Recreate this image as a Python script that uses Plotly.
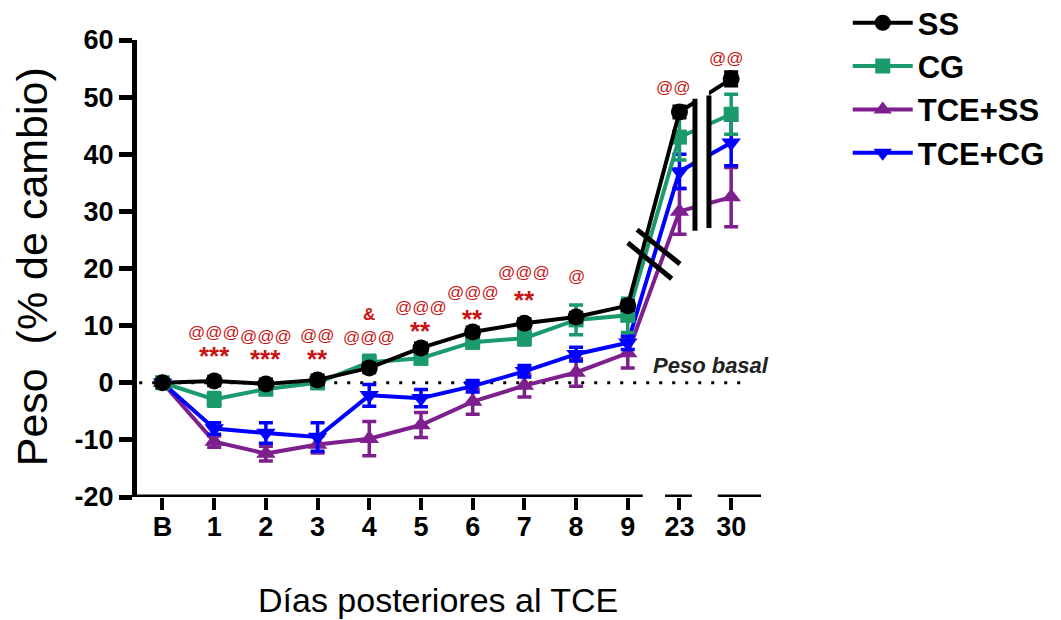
import plotly.graph_objects as go

days = ["B", "1", "2", "3", "4", "5", "6", "7", "8", "9", "23", "30"]
y_ticks = [-20, -10, 0, 10, 20, 30, 40, 50, 60]
y_ticktext = ["-20", "-10", "0", "10", "20", "30", "40", "50", "60"]

ss = [0, 0.3, -0.2, 0.5, 2.6, 6.1, 8.9, 10.4, 11.5, 13.5, 47.4, 53.2]
ss_err = [0.5, 0.8, 0.8, 0.8, 0.8, 0.8, 0.8, 0.8, 0.8, 0.8, 1.0, 1.2]
cg = [0, -2.9, -1.1, 0.0, 3.6, 4.3, 7.1, 7.8, 11.0, 11.8, 43.0, 47.0]
cg_err = [0.5, 1.2, 1.0, 1.0, 1.2, 1.0, 1.0, 1.2, 2.6, 3.0, 4.0, 3.5]
tce_ss = [0, -10.3, -12.4, -10.8, -9.8, -7.4, -3.3, -0.5, 1.8, 5.2, 30.0, 32.5]
tce_ss_err = [0.5, 1.0, 1.3, 1.5, 3.0, 2.2, 2.2, 2.0, 2.4, 2.6, 4.0, 5.2]
tce_cg = [0, -8.0, -8.8, -9.5, -2.2, -2.7, -0.6, 2.0, 5.0, 7.0, 37.0, 42.0]
tce_cg_err = [0.5, 1.0, 1.8, 2.5, 1.9, 1.5, 1.0, 1.0, 1.2, 1.2, 3.0, 4.0]

# significance labels
sig_x = [1, 1, 2, 2, 3, 3, 4, 4, 5, 5, 6, 6, 7, 7, 8, 9.88, 10.9]
sig_y = [8.8, 4.6, 8.1, 4.1, 8.2, 4.1, 11.9, 7.9, 13.1, 9.0, 15.8, 11.2, 19.3, 14.4, 18.6, 51.7, 56.7]
sig_text = ["@@@", "***", "@@@", "***", "@@", "**", "&", "@@@", "@@@", "**",
            "@@@", "**", "@@@", "**", "@", "@@", "@@"]

x = list(range(len(days)))

REG = "Liberation Sans, Arial"

series = [
    ("TCE+SS", tce_ss, tce_ss_err, "#7d1f8c", "triangle-up", 17, 3),
    ("TCE+CG", tce_cg, tce_cg_err, "#0000ff", "triangle-down", 17, 4),
    ("CG", cg, cg_err, "#1b9a6b", "square", 15, 2),
    ("SS", ss, ss_err, "#000000", "circle", 17, 1),
]

fig = go.Figure()
for name, vals, err, col, sym, size, rank in series:
    fig.add_trace(go.Scatter(
        x=x, y=vals, name=name, mode="lines+markers",
        line=dict(color=col, width=4),
        marker=dict(symbol=sym, size=size, color=col, line=dict(width=0)),
        error_y=dict(type="data", array=err, visible=True, color=col,
                     thickness=3.5, width=7),
        legendrank=rank,
    ))

xmin, xmax = -0.493, 11.577
shapes = [
    # baseline
    dict(type="line", xref="x", yref="y", x0=-0.45, x1=11.33, y0=0, y1=0,
         line=dict(color="black", width=3, dash="3px,10px"), layer="below"),
    # broken x axis
    dict(type="line", xref="x", yref="y", x0=-0.54, x1=9.29, y0=-20, y1=-20,
         line=dict(color="black", width=5)),
    dict(type="line", xref="x", yref="y", x0=9.72, x1=10.24, y0=-20, y1=-20,
         line=dict(color="black", width=5)),
    dict(type="line", xref="x", yref="y", x0=10.74, x1=xmax, y0=-20, y1=-20,
         line=dict(color="black", width=5)),
    # gap between 23 and 30
    dict(type="rect", xref="x", yref="y", x0=10.30, x1=10.57, y0=25.5, y1=53,
         fillcolor="white", line=dict(width=0)),
    dict(type="line", xref="x", yref="y", x0=10.30, x1=10.30, y0=26.6, y1=49.7,
         line=dict(color="black", width=5)),
    dict(type="line", xref="x", yref="y", x0=10.57, x1=10.57, y0=27.1, y1=50.3,
         line=dict(color="black", width=5)),
    # diagonal break marks between 9 and 23
    dict(type="line", xref="x", yref="y", x0=9.00, x1=9.85, y0=24.5, y1=18.2,
         line=dict(color="black", width=5)),
    dict(type="line", xref="x", yref="y", x0=9.18, x1=10.01, y0=26.8, y1=20.8,
         line=dict(color="black", width=5)),
]

annotations = []
for sx, sy, st in zip(sig_x, sig_y, sig_text):
    if "*" in st:
        f = dict(family=REG, size=26, color="#c81414", weight="bold")
    elif st == "&":
        f = dict(family=REG, size=17, color="#c81414", weight="bold")
    else:
        f = dict(family=REG, size=17, color="#c81414")
    annotations.append(dict(x=sx, y=sy, xref="x", yref="y", text=st,
                            showarrow=False, font=f))

annotations.append(dict(x=10.61, y=3.0, xref="x", yref="y", text="Peso basal",
                        showarrow=False,
                        font=dict(family=REG, size=22, color="#222222",
                                  weight="bold", style="italic")))
annotations.append(dict(x=-0.168, y=0.503, xref="paper", yref="paper",
                        xanchor="center", yanchor="middle",
                        text="Peso\u00a0\u00a0(% de cambio)", textangle=-90,
                        showarrow=False,
                        font=dict(family=REG, size=43, color="black")))
annotations.append(dict(x=0.482, y=-0.225, xref="paper", yref="paper",
                        xanchor="center", yanchor="middle",
                        text="Días posteriores al TCE", showarrow=False,
                        font=dict(family=REG, size=34, color="black")))

# page body has an 8px margin, so the figure is offset by 8px
fig.update_layout(
    width=1053, height=612,
    margin=dict(l=129, r=300, t=32, b=123, autoexpand=False),
    plot_bgcolor="white", paper_bgcolor="white",
    showlegend=True,
    legend=dict(x=1.139, y=1.096, xanchor="left", yanchor="top",
                font=dict(family=REG, size=31, color="black", weight="bold"),
                bgcolor="rgba(0,0,0,0)", itemwidth=60),
    shapes=shapes,
    annotations=annotations,
    xaxis=dict(range=[xmin, xmax], tickvals=x, ticktext=days,
               showgrid=False, zeroline=False, showline=False,
               ticks="outside", ticklen=12, tickwidth=4, tickcolor="black",
               ticklabelstandoff=-6,
               tickfont=dict(family=REG, size=27, color="black", weight="bold")),
    yaxis=dict(range=[-20, 60], tickvals=y_ticks, ticktext=y_ticktext,
               showgrid=False, zeroline=False, showline=True,
               linewidth=5, linecolor="black",
               ticks="outside", ticklen=13, tickwidth=5, tickcolor="black",
               tickfont=dict(family=REG, size=27, color="black", weight="bold")),
)

fig.write_html("out.html")
